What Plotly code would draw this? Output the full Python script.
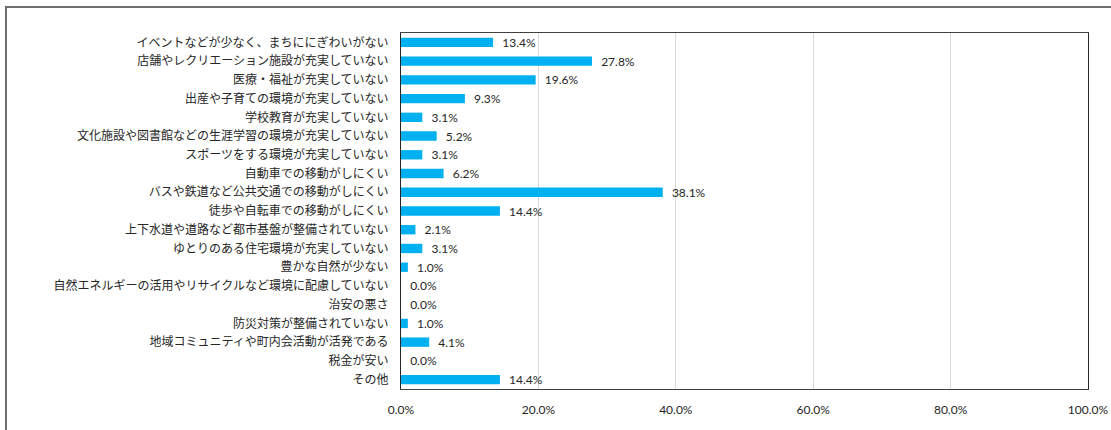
import plotly.graph_objects as go

# Survey items (top to bottom) and share of responses (%)
categories = [
    "イベントなどが少なく、まちににぎわいがない",
    "店舗やレクリエーション施設が充実していない",
    "医療・福祉が充実していない",
    "出産や子育ての環境が充実していない",
    "学校教育が充実していない",
    "文化施設や図書館などの生涯学習の環境が充実していない",
    "スポーツをする環境が充実していない",
    "自動車での移動がしにくい",
    "バスや鉄道など公共交通での移動がしにくい",
    "徒歩や自転車での移動がしにくい",
    "上下水道や道路など都市基盤が整備されていない",
    "ゆとりのある住宅環境が充実していない",
    "豊かな自然が少ない",
    "自然エネルギーの活用やリサイクルなど環境に配慮していない",
    "治安の悪さ",
    "防災対策が整備されていない",
    "地域コミュニティや町内会活動が活発である",
    "税金が安い",
    "その他",
]
values = [13.4, 27.8, 19.6, 9.3, 3.1, 5.2, 3.1, 6.2, 38.1, 14.4,
          2.1, 3.1, 1.0, 0.0, 0.0, 1.0, 4.1, 0.0, 14.4]
x_ticks = [0, 20, 40, 60, 80, 100]
x_tick_labels = ["0.0%", "20.0%", "40.0%", "60.0%", "80.0%", "100.0%"]

num_font = "Lato, 'Liberation Sans', sans-serif"
jp_font = "'Noto Sans CJK JP', sans-serif"
text_color = "#262626"

fig = go.Figure(
    go.Bar(
        x=values,
        y=categories,
        orientation="h",
        marker=dict(color="#00B0F0", line=dict(width=0)),
        text=[f"  {v:.1f}%" for v in values],
        textposition="outside",
        constraintext="none",
        textfont=dict(family=num_font, size=12, color=text_color),
        cliponaxis=False,
        hoverinfo="skip",
    )
)

fig.update_layout(
    width=1111,
    height=430,
    margin=dict(l=401, r=23, t=33, b=41, autoexpand=False),
    paper_bgcolor="white",
    plot_bgcolor="white",
    bargap=0.5,
    showlegend=False,
    uniformtext=dict(mode=False),
    shapes=[
        # outer chart frame (runs past the page on right and bottom)
        dict(
            type="rect", xref="paper", yref="paper",
            x0=-0.575, x1=1.2, y0=-0.3, y1=1.073,
            line=dict(color="#6e6e6e", width=2), fillcolor="rgba(0,0,0,0)",
            layer="below",
        )
    ],
)

fig.update_xaxes(
    range=[0, 100],
    tickvals=x_ticks,
    ticktext=x_tick_labels,
    tickfont=dict(family=num_font, size=12, color=text_color),
    showgrid=True,
    gridcolor="#d9d9d9",
    gridwidth=1,
    zeroline=False,
    showline=True,
    linecolor="#404040",
    linewidth=1,
    mirror=True,
    ticks="outside",
    ticklen=10,
    tickcolor="rgba(0,0,0,0)",
    automargin=False,
    fixedrange=True,
)

fig.update_yaxes(
    autorange="reversed",
    tickfont=dict(family=jp_font, size=12, color=text_color),
    showgrid=False,
    showline=True,
    linecolor="#262626",
    linewidth=1,
    mirror=True,
    ticks="outside",
    ticklen=9,
    tickcolor="rgba(0,0,0,0)",
    automargin=False,
    fixedrange=True,
)

fig.write_html("out.html")
